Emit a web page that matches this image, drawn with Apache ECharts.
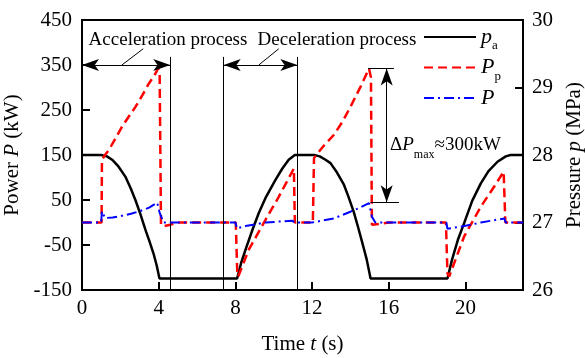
<!DOCTYPE html>
<html><head><meta charset="utf-8">
<script src="https://cdn.jsdelivr.net/npm/echarts@6/dist/echarts.min.js"></script>
<style>html,body{margin:0;padding:0;background:#fff}#c{width:585px;height:358px}</style>
</head><body><div id="c"></div>
<script>
// ---- data ----
const xTicks = [0, 4, 8, 12, 16, 20];
const powerTicks = [-150, -50, 50, 150, 250, 350, 450];
const pressureTicks = [26, 27, 28, 29, 30];

// accumulator pressure p_a (MPa): [t, p]
const paData = [
[0,28.0],[1.0,28.0],[1.3,27.98],[1.57,27.93],[1.9,27.83],[2.26,27.68],[2.55,27.5],[2.79,27.33],[3.05,27.12],[3.31,26.89],[3.52,26.72],[3.73,26.54],[3.9,26.36],[4.04,26.17],
[8.09,26.17],[8.3,26.4],[8.52,26.59],[8.9,26.9],[9.22,27.14],[9.6,27.38],[10.09,27.63],[10.45,27.8],[10.78,27.93],[11.1,28.0],
[12.1,28.0],[12.4,27.98],[12.7,27.93],[12.96,27.88],[13.3,27.74],[13.66,27.56],[13.9,27.38],[14.18,27.15],[14.4,26.93],[14.6,26.72],[14.85,26.45],[15.05,26.17],
[19.06,26.17],[19.3,26.45],[19.6,26.74],[19.93,26.99],[20.35,27.32],[20.8,27.58],[21.2,27.76],[21.67,27.9],[22.1,27.98],[22.35,28.0],[23,28.0]
];
// pump power P_p (kW): [t, P]
const ppData = [
[0,0],[1.02,0],[1.04,139],[1.2,150],[1.4,161],[1.75,187],[2.09,213],[2.45,236],[2.79,257],[3.15,283],[3.49,309],[3.75,325],[3.97,342],[4.05,328],[4.12,-6],[4.3,-8],[4.6,-5],[5.0,0],
[8.02,0],[8.1,-115],[8.15,-120],[8.69,-61],[9.57,6],[10.26,57],[11.05,120],[11.1,0],
[12.04,0],[12.1,143],[12.25,152],[12.6,170],[13.14,195],[13.6,225],[14.0,257],[14.53,302],[14.97,342],[15.07,322],[15.12,-5],[15.5,-3],[16,0],
[18.98,0],[19.06,-113],[19.15,-120],[19.93,-31],[20.8,35],[21.5,80],[21.99,113],[22.08,0],[23,0]
];
// power P (kW): [t, P]
const pData = [
[0,0],[1.0,0],[1.04,25],[1.2,10],[1.6,11],[2.0,14],[2.6,20],[3.0,25],[3.5,33],[3.92,44],[4.05,22],[4.25,0],
[8.0,0],[8.08,-13],[8.52,-8],[9.57,0],[10.96,4],[11.1,0],
[12.0,0],[12.05,4],[13.14,9],[14.0,24],[14.5,33],[14.97,43],[15.12,13],[15.3,0],
[19.0,0],[19.06,-14],[19.93,-8],[20.8,0],[22.02,9],[22.1,0],[23,0]
];

// ---- chart ----
const F = "'Liberation Serif','Times New Roman',serif";
const chart = echarts.init(document.getElementById('c'), null, {renderer: 'canvas'});
const nameRich = {
  n: {fontFamily: F, fontSize: 21, color: '#000'},
  i: {fontFamily: F, fontSize: 21, color: '#000', fontStyle: 'italic'}
};
const legRich = {
  i: {fontFamily: F, fontSize: 22, color: '#000', fontStyle: 'italic'},
  s: {fontFamily: F, fontSize: 13, color: '#000', padding: [18, 0, 0, 0]}
};
const legNames = {pa: '{i|p}{s|a}', Pp: '{i|P}{s|p}', P: '{i|P}{s| }'};
const arr = {symbol: 'arrow', symbolSize: [9, 17]};

const axisCommon = {
  axisLine: {show: true, onZero: false, lineStyle: {color: '#000', width: 2}},
  axisTick: {show: true, inside: true, length: 8, lineStyle: {color: '#000', width: 2}},
  splitLine: {show: false},
  axisLabel: {color: '#000', fontFamily: F, fontSize: 21}
};

chart.setOption({
  animation: false,
  backgroundColor: '#fff',
  grid: {left: 82, right: 62, top: 20, bottom: 68, containLabel: false, outerBoundsMode: 'none',
         show: true, borderColor: '#000', borderWidth: 2, backgroundColor: 'transparent'},
  xAxis: Object.assign({}, axisCommon, {
    type: 'value', min: xTicks[0], max: 23, interval: xTicks[1] - xTicks[0],
    axisLabel: Object.assign({}, axisCommon.axisLabel, {margin: 8, showMaxLabel: false}),
    name: '{n|Time }{i|t}{n| (s)}', nameLocation: 'middle', nameGap: 44,
    nameTextStyle: {rich: nameRich}
  }),
  yAxis: [
    Object.assign({}, axisCommon, {
      type: 'value', min: powerTicks[0], max: powerTicks[powerTicks.length - 1], interval: powerTicks[1] - powerTicks[0],
      position: 'left',
      axisLabel: Object.assign({}, axisCommon.axisLabel, {margin: 10}),
      name: '{n|Power }{i|P}{n| (kW)}', nameLocation: 'middle', nameGap: 54,
      nameTextStyle: {rich: nameRich}
    }),
    Object.assign({}, axisCommon, {
      type: 'value', min: pressureTicks[0], max: pressureTicks[pressureTicks.length - 1], interval: pressureTicks[1] - pressureTicks[0],
      position: 'right',
      axisLabel: Object.assign({}, axisCommon.axisLabel, {margin: 9}),
      name: '{n|Pressure }{i|p}{n| (MPa)}', nameLocation: 'middle', nameGap: 38,
      nameTextStyle: {rich: nameRich}
    })
  ],
  legend: {
    data: ['pa', 'Pp', 'P'], orient: 'vertical', left: 423, top: 26, padding: 0,
    itemWidth: 52, itemHeight: 14, itemGap: 4, selectedMode: false,
    itemStyle: {color: 'rgba(0,0,0,0)', borderWidth: 0, opacity: 0},
    formatter: n => legNames[n],
    textStyle: {rich: legRich}
  },
  series: [
    {name: 'pa', type: 'line', yAxisIndex: 1, data: paData, symbol: 'none', z: 3,
     lineStyle: {color: '#000', width: 2.5}, itemStyle: {color: '#000'}},
    {name: 'Pp', type: 'line', yAxisIndex: 0, data: ppData, symbol: 'none', z: 4,
     lineStyle: {color: '#ff0000', width: 2.5, type: [9, 5]}, itemStyle: {color: '#ff0000'}},
    {name: 'P', type: 'line', yAxisIndex: 0, data: pData, symbol: 'none', z: 5,
     lineStyle: {color: '#0000ff', width: 2, type: [10, 4, 2, 4]}, itemStyle: {color: '#0000ff'},
     markLine: {
       silent: true, symbol: ['none', 'none'], label: {show: false},
       lineStyle: {color: '#000', width: 1, type: 'solid'}, emphasis: {disabled: true},
       data: [
         [{coord: [4.6, -150]}, {coord: [4.6, 368]}],
         [{coord: [7.39, -150]}, {coord: [7.39, 368]}],
         [{coord: [11.23, -150]}, {coord: [11.23, 368]}],
         [Object.assign({coord: [0, 350]}, arr), Object.assign({coord: [4.6, 350]}, arr)],
         [Object.assign({coord: [7.39, 350]}, arr), Object.assign({coord: [11.23, 350]}, arr)],
         [{coord: [3.19, 386]}, {coord: [2.08, 350]}],
         [{coord: [10.26, 386]}, {coord: [9.22, 350]}],
         [{coord: [14.92, 342]}, {coord: [16.27, 342]}],
         [{coord: [15.05, 45]}, {coord: [16.53, 45]}],
         [Object.assign({coord: [15.89, 342]}, arr), Object.assign({coord: [15.89, 45]}, arr)]
       ]
     }}
  ],
  graphic: [
    {type: 'text', x: 168, y: 40, style: {text: 'Acceleration process', fontFamily: F, fontSize: 19, fill: '#000', align: 'center', verticalAlign: 'middle'}},
    {type: 'text', x: 337, y: 40, style: {text: 'Deceleration process', fontFamily: F, fontSize: 19, fill: '#000', align: 'center', verticalAlign: 'middle'}},
    {type: 'text', x: 390, y: 145, style: {
      text: '{n|\u0394}{i|P}{s|max}{n|\u2248300kW}', align: 'left', verticalAlign: 'middle',
      rich: {
        n: {fontFamily: F, fontSize: 19, fill: '#000'},
        i: {fontFamily: F, fontSize: 19, fill: '#000', fontStyle: 'italic'},
        s: {fontFamily: F, fontSize: 12, fill: '#000', padding: [20, 0, 0, 0]}
      }}}
  ]
});
</script></body></html>
